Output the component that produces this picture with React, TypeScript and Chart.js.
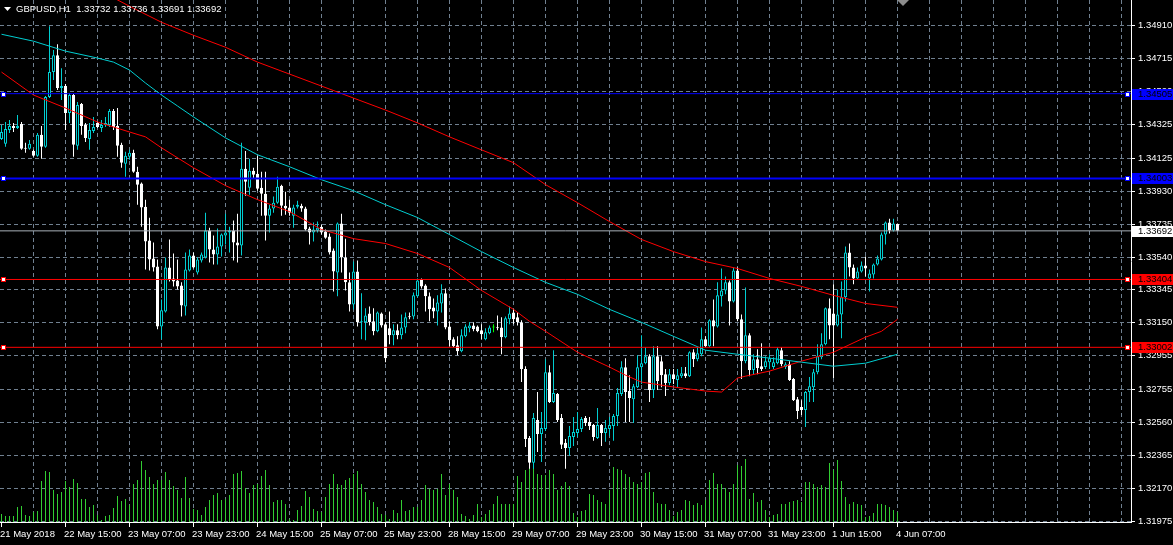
import React, { useEffect, useRef } from 'react';
import { Chart, registerables } from 'chart.js';

Chart.register(...registerables);

// ---------- data (GBPUSD, H1) ----------
const symbolTitle = 'GBPUSD,H1';

const open = [
  1.34237, 1.34208, 1.34290, 1.34314, 1.34302, 1.34326, 1.34184, 1.34178, 1.34166, 1.34137,
  1.34261, 1.34190, 1.34485, 1.34633, 1.34733, 1.34538, 1.34550, 1.34391, 1.34497, 1.34196,
  1.34444, 1.34320, 1.34237, 1.34284, 1.34331, 1.34302, 1.34320, 1.34320, 1.34402, 1.34314,
  1.34202, 1.34090, 1.34131, 1.34155, 1.34042, 1.33972, 1.33835, 1.33635, 1.33528, 1.33481,
  1.33126, 1.33215, 1.33475, 1.33410, 1.33398, 1.33369, 1.33244, 1.33457, 1.33546, 1.33446,
  1.33516, 1.33534, 1.33694, 1.33581, 1.33552, 1.33599, 1.33664, 1.33682, 1.33694, 1.33623,
  1.33605, 1.34060, 1.33948, 1.34048, 1.34031, 1.33948, 1.33912, 1.33782, 1.33824, 1.33859,
  1.33960, 1.33841, 1.33830, 1.33782, 1.33835, 1.33841, 1.33824, 1.33706, 1.33682, 1.33694,
  1.33717, 1.33688, 1.33658, 1.33575, 1.33446, 1.33735, 1.33534, 1.33387, 1.33256, 1.33452,
  1.33150, 1.33150, 1.33203, 1.33156, 1.33097, 1.33203, 1.33138, 1.33115, 1.33073, 1.33103,
  1.33073, 1.33120, 1.33185, 1.33185, 1.33304, 1.33404, 1.33369, 1.33304, 1.33238, 1.33215,
  1.33262, 1.33322, 1.33126, 1.33050, 1.33014, 1.32979, 1.33067, 1.33115, 1.33132, 1.33126,
  1.33103, 1.33050, 1.33085, 1.33120, 1.33120, 1.33120, 1.33062, 1.33168, 1.33209, 1.33180,
  1.33150, 1.32873, 1.32465, 1.32318, 1.32571, 1.32489, 1.32518, 1.32855, 1.32678, 1.32725,
  1.32583, 1.32436, 1.32406, 1.32471, 1.32495, 1.32518, 1.32583, 1.32560, 1.32542, 1.32465,
  1.32542, 1.32495, 1.32518, 1.32536, 1.32595, 1.32725, 1.32884, 1.32743, 1.32695, 1.32766,
  1.32884, 1.32908, 1.32949, 1.32749, 1.32949, 1.32920, 1.32843, 1.32790, 1.32843, 1.32808,
  1.32831, 1.32849, 1.32831, 1.32973, 1.32932, 1.32961, 1.33050, 1.33008, 1.33162, 1.33126,
  1.33304, 1.33339, 1.33387, 1.33274, 1.33457, 1.33168, 1.32920, 1.33073, 1.32867, 1.32932,
  1.32890, 1.32885, 1.32914, 1.32885, 1.32908, 1.32985, 1.32885, 1.32902, 1.32814, 1.32695,
  1.32648, 1.32630, 1.32737, 1.32766, 1.32855, 1.32943, 1.33020, 1.33233, 1.33203, 1.33132,
  1.33197, 1.33298, 1.33564, 1.33475, 1.33410, 1.33452, 1.33487, 1.33410, 1.33434, 1.33493,
  1.33522, 1.33670, 1.33741, 1.33694, 1.33732,
];

const high = [
  1.34320, 1.34337, 1.34349, 1.34331, 1.34379, 1.34337, 1.34214, 1.34231, 1.34172, 1.34272,
  1.34314, 1.34491, 1.34904, 1.34763, 1.34798, 1.34656, 1.34562, 1.34509, 1.34503, 1.34456,
  1.34450, 1.34331, 1.34331, 1.34367, 1.34337, 1.34349, 1.34367, 1.34414, 1.34414, 1.34420,
  1.34214, 1.34161, 1.34172, 1.34172, 1.34072, 1.33978, 1.33877, 1.33770, 1.33623, 1.33522,
  1.33286, 1.33534, 1.33641, 1.33558, 1.33522, 1.33387, 1.33564, 1.33581, 1.33564, 1.33534,
  1.33564, 1.33800, 1.33711, 1.33664, 1.33706, 1.33676, 1.33794, 1.33717, 1.33753, 1.33794,
  1.34214, 1.34166, 1.34119, 1.34066, 1.34137, 1.34042, 1.34042, 1.33847, 1.33895, 1.34013,
  1.33966, 1.33924, 1.33877, 1.33847, 1.33871, 1.33853, 1.33835, 1.33717, 1.33741, 1.33747,
  1.33729, 1.33700, 1.33676, 1.33587, 1.33741, 1.33794, 1.33646, 1.33446, 1.33510, 1.33516,
  1.33322, 1.33233, 1.33244, 1.33233, 1.33215, 1.33209, 1.33150, 1.33215, 1.33138, 1.33138,
  1.33197, 1.33209, 1.33209, 1.33327, 1.33410, 1.33410, 1.33375, 1.33327, 1.33292, 1.33310,
  1.33375, 1.33351, 1.33156, 1.33062, 1.33067, 1.33109, 1.33138, 1.33150, 1.33150, 1.33132,
  1.33138, 1.33115, 1.33132, 1.33138, 1.33191, 1.33180, 1.33185, 1.33244, 1.33227, 1.33209,
  1.33162, 1.32890, 1.32477, 1.32613, 1.32737, 1.32619, 1.32932, 1.32896, 1.32985, 1.32731,
  1.32607, 1.32459, 1.32536, 1.32589, 1.32619, 1.32589, 1.32595, 1.32589, 1.32548, 1.32642,
  1.32548, 1.32571, 1.32589, 1.32607, 1.32761, 1.32920, 1.32938, 1.32837, 1.32784, 1.32955,
  1.33073, 1.33003, 1.32961, 1.33008, 1.33008, 1.32949, 1.32873, 1.32873, 1.32873, 1.32873,
  1.32885, 1.32885, 1.32979, 1.32991, 1.33003, 1.33120, 1.33067, 1.33168, 1.33286, 1.33387,
  1.33469, 1.33422, 1.33398, 1.33475, 1.33475, 1.33197, 1.33357, 1.33085, 1.32961, 1.32991,
  1.33026, 1.32949, 1.32961, 1.32943, 1.33003, 1.33003, 1.32914, 1.32920, 1.32820, 1.32707,
  1.32689, 1.32743, 1.32826, 1.32873, 1.33020, 1.33085, 1.33238, 1.33292, 1.33375, 1.33345,
  1.33392, 1.33599, 1.33617, 1.33493, 1.33475, 1.33510, 1.33540, 1.33463, 1.33499, 1.33546,
  1.33682, 1.33747, 1.33764, 1.33764, 1.33736,
];

const low = [
  1.34231, 1.34190, 1.34272, 1.34278, 1.34296, 1.34172, 1.34155, 1.34172, 1.34131, 1.34131,
  1.34119, 1.34184, 1.34479, 1.34586, 1.34527, 1.34467, 1.34290, 1.34331, 1.34131, 1.34172,
  1.34261, 1.34219, 1.34172, 1.34272, 1.34302, 1.34278, 1.34308, 1.34308, 1.34290, 1.34131,
  1.34066, 1.34013, 1.34113, 1.34036, 1.33847, 1.33717, 1.33463, 1.33457, 1.33452, 1.33109,
  1.33050, 1.33209, 1.33392, 1.33363, 1.33345, 1.33185, 1.33191, 1.33452, 1.33469, 1.33434,
  1.33505, 1.33528, 1.33505, 1.33493, 1.33493, 1.33540, 1.33611, 1.33564, 1.33516, 1.33505,
  1.33546, 1.33900, 1.33906, 1.34001, 1.33930, 1.33782, 1.33635, 1.33682, 1.33800, 1.33853,
  1.33782, 1.33788, 1.33782, 1.33711, 1.33824, 1.33806, 1.33694, 1.33611, 1.33629, 1.33682,
  1.33670, 1.33646, 1.33552, 1.33333, 1.33304, 1.33446, 1.33339, 1.33215, 1.33227, 1.33126,
  1.33050, 1.33044, 1.33132, 1.33073, 1.33091, 1.33120, 1.32914, 1.33020, 1.33014, 1.33050,
  1.33050, 1.33085, 1.33168, 1.33168, 1.33298, 1.33351, 1.33215, 1.33156, 1.33174, 1.33132,
  1.33209, 1.33109, 1.33008, 1.33003, 1.32955, 1.32973, 1.33062, 1.33091, 1.33097, 1.33091,
  1.33050, 1.33044, 1.33079, 1.33091, 1.33103, 1.32961, 1.33056, 1.33138, 1.33138, 1.33132,
  1.32796, 1.32411, 1.32282, 1.32282, 1.32382, 1.32323, 1.32506, 1.32672, 1.32672, 1.32560,
  1.32400, 1.32282, 1.32359, 1.32418, 1.32471, 1.32501, 1.32536, 1.32512, 1.32448, 1.32459,
  1.32418, 1.32442, 1.32477, 1.32448, 1.32536, 1.32713, 1.32560, 1.32560, 1.32554, 1.32761,
  1.32784, 1.32902, 1.32678, 1.32701, 1.32749, 1.32766, 1.32713, 1.32778, 1.32784, 1.32761,
  1.32820, 1.32820, 1.32826, 1.32885, 1.32920, 1.32949, 1.33003, 1.33003, 1.33008, 1.33120,
  1.33244, 1.33316, 1.33132, 1.33268, 1.33156, 1.32814, 1.32908, 1.32831, 1.32843, 1.32843,
  1.32861, 1.32873, 1.32873, 1.32873, 1.32902, 1.32890, 1.32873, 1.32802, 1.32684, 1.32577,
  1.32601, 1.32530, 1.32678, 1.32678, 1.32843, 1.32932, 1.33014, 1.33050, 1.32820, 1.33126,
  1.33056, 1.33274, 1.33422, 1.33375, 1.33404, 1.33446, 1.33422, 1.33333, 1.33410, 1.33487,
  1.33516, 1.33611, 1.33676, 1.33688, 1.33691,
];

const close = [
  1.34278, 1.34296, 1.34314, 1.34302, 1.34314, 1.34178, 1.34178, 1.34208, 1.34137, 1.34261,
  1.34190, 1.34485, 1.34633, 1.34733, 1.34538, 1.34550, 1.34391, 1.34497, 1.34202, 1.34438,
  1.34314, 1.34243, 1.34290, 1.34308, 1.34308, 1.34320, 1.34331, 1.34402, 1.34308, 1.34196,
  1.34096, 1.34137, 1.34155, 1.34042, 1.33966, 1.33830, 1.33629, 1.33522, 1.33475, 1.33126,
  1.33221, 1.33475, 1.33404, 1.33392, 1.33363, 1.33250, 1.33463, 1.33546, 1.33475, 1.33522,
  1.33552, 1.33694, 1.33581, 1.33552, 1.33599, 1.33670, 1.33682, 1.33694, 1.33623, 1.33605,
  1.34060, 1.33983, 1.34048, 1.34025, 1.33942, 1.33912, 1.33782, 1.33824, 1.33859, 1.33954,
  1.33841, 1.33824, 1.33800, 1.33830, 1.33847, 1.33824, 1.33700, 1.33682, 1.33700, 1.33711,
  1.33682, 1.33652, 1.33564, 1.33452, 1.33735, 1.33534, 1.33387, 1.33256, 1.33452, 1.33150,
  1.33156, 1.33191, 1.33150, 1.33097, 1.33209, 1.33132, 1.32937, 1.33073, 1.33103, 1.33073,
  1.33120, 1.33180, 1.33180, 1.33310, 1.33398, 1.33363, 1.33304, 1.33227, 1.33215, 1.33268,
  1.33322, 1.33120, 1.33044, 1.33008, 1.32979, 1.33073, 1.33126, 1.33132, 1.33109, 1.33097,
  1.33079, 1.33091, 1.33120, 1.33120, 1.33115, 1.33062, 1.33174, 1.33203, 1.33168, 1.33150,
  1.32873, 1.32459, 1.32318, 1.32583, 1.32489, 1.32524, 1.32855, 1.32678, 1.32731, 1.32571,
  1.32424, 1.32406, 1.32477, 1.32501, 1.32518, 1.32577, 1.32554, 1.32536, 1.32471, 1.32542,
  1.32495, 1.32524, 1.32542, 1.32595, 1.32731, 1.32884, 1.32737, 1.32701, 1.32772, 1.32884,
  1.32908, 1.32949, 1.32749, 1.32949, 1.32802, 1.32837, 1.32790, 1.32843, 1.32814, 1.32837,
  1.32849, 1.32831, 1.32973, 1.32932, 1.32967, 1.33050, 1.33008, 1.33162, 1.33126, 1.33310,
  1.33339, 1.33387, 1.33274, 1.33457, 1.33168, 1.32920, 1.33073, 1.32867, 1.32932, 1.32879,
  1.32873, 1.32920, 1.32938, 1.32914, 1.32991, 1.32902, 1.32902, 1.32808, 1.32689, 1.32624,
  1.32630, 1.32737, 1.32772, 1.32855, 1.32949, 1.33020, 1.33233, 1.33132, 1.33132, 1.33197,
  1.33298, 1.33564, 1.33475, 1.33410, 1.33452, 1.33487, 1.33469, 1.33440, 1.33493, 1.33528,
  1.33670, 1.33741, 1.33694, 1.33735, 1.33692,
];

const volume = [
  800, 600, 600, 600, 1500, 1600, 700, 600, 1000, 1100,
  4100, 5100, 5000, 3200, 2800, 3000, 4100, 3500, 4300, 3900,
  2300, 2300, 1500, 1700, 700, 200, 600, 700, 1400, 2600,
  2100, 2300, 1700, 3800, 4200, 6100, 5200, 4500, 3800, 4200,
  4200, 5000, 4200, 3600, 3200, 2400, 4500, 2400, 1300, 1200,
  700, 1500, 2200, 2700, 2900, 2200, 2300, 2700, 4800, 4900,
  5100, 3400, 2900, 3700, 3800, 4600, 5200, 3700, 2000, 2200,
  2200, 1800, 300, 200, 1200, 1600, 3100, 2500, 1300, 1100,
  1000, 2500, 3800, 4800, 3800, 3700, 4200, 4400, 4800, 5100,
  3800, 3000, 2200, 2000, 1500, 800, 700, 300, 1200, 900,
  2200, 1100, 1200, 1500, 1500, 2200, 3700, 3300, 3200, 3300,
  4800, 2700, 3800, 3200, 2500, 800, 600, 300, 700, 1800,
  500, 800, 1200, 1800, 2600, 1800, 1800, 1800, 1800, 4600,
  4000, 5200, 6800, 6200, 4800, 4700, 4700, 5200, 4800, 3200,
  3600, 4000, 3600, 900, 500, 1100, 1200, 2800, 2700, 2200,
  2000, 1800, 3200, 5500, 5300, 5200, 4800, 4500, 4000, 3800,
  4000, 4900, 5000, 3000, 1900, 1800, 1800, 1200, 600, 1000,
  1200, 2200, 2100, 1700, 1900, 1700, 2200, 4200, 4900, 3800,
  3800, 3400, 3000, 3800, 5700, 5600, 6300, 2300, 2900, 2000,
  2200, 1200, 500, 700, 800, 1800, 1800, 2000, 2100, 2200,
  2000, 4000, 4000, 3800, 3500, 3700, 3500, 5900, 5200, 6200,
  4100, 2500, 1800, 2000, 1800, 1700, 500, 600, 900, 1800,
  1800, 1700, 1500, 1200, 1000,
];

// moving averages (read at the bars listed)
const maSlowBars = [24, 32, 40, 48, 56, 64, 72, 80, 88, 96, 104, 112, 120, 128, 136, 144, 152, 160, 168, 176, 184, 192, 200, 208, 216, 224];
const maSlowValues = [
  1.35123, 1.35023, 1.34928, 1.34851, 1.34780, 1.34692, 1.34621, 1.34550, 1.34479, 1.34408,
  1.34332, 1.34249, 1.34172, 1.34096, 1.33966, 1.33859, 1.33747, 1.33641, 1.33569, 1.33510,
  1.33469, 1.33410, 1.33363, 1.33310, 1.33262, 1.33239,
];

const maMidBars = [0, 8, 16, 24, 28, 32, 36, 40, 44, 48, 56, 64, 72, 80, 88, 96, 104, 112, 120, 128, 136, 144, 152, 160, 168, 176, 184, 192, 200, 208, 216, 224];
const maMidValues = [
  1.34857, 1.34816, 1.34757, 1.34716, 1.34692, 1.34645, 1.34568, 1.34497, 1.34432, 1.34367,
  1.34243, 1.34143, 1.34072, 1.33995, 1.33930, 1.33847, 1.33771, 1.33670, 1.33569, 1.33475,
  1.33387, 1.33316, 1.33227, 1.33150, 1.33067, 1.32985, 1.32961, 1.32938, 1.32914, 1.32890,
  1.32908, 1.32961,
];

const maFastBars = [0, 8, 16, 24, 32, 36, 40, 48, 56, 64, 72, 80, 88, 96, 104, 112, 120, 128, 132, 136, 144, 152, 156, 160, 168, 176, 180, 182, 184, 186, 192, 200, 208, 216, 220, 224];
const maFastValues = [
  1.34633, 1.34497, 1.34420, 1.34337, 1.34278, 1.34249, 1.34184, 1.34066, 1.33960, 1.33877,
  1.33806, 1.33700, 1.33646, 1.33617, 1.33558, 1.33475, 1.33339, 1.33227, 1.33156, 1.33097,
  1.32973, 1.32885, 1.32837, 1.32796, 1.32767, 1.32743, 1.32737, 1.32778, 1.32820, 1.32831,
  1.32861, 1.32920, 1.32973, 1.33062, 1.33097, 1.33168,
];

// horizontal level objects
const blueLevels = [1.34505, 1.34003];
const redLevels = [1.33404, 1.33002];

// axis labels
const yTickLabels = [
  '1.34910', '1.34715', '1.34520', '1.34325', '1.34125', '1.33930', '1.33735', '1.33540',
  '1.33345', '1.33150', '1.32955', '1.32755', '1.32560', '1.32365', '1.32170', '1.31975',
];
const xTickLabels = [
  '21 May 2018', '22 May 15:00', '23 May 07:00', '23 May 23:00', '24 May 15:00', '25 May 07:00',
  '25 May 23:00', '28 May 15:00', '29 May 07:00', '29 May 23:00', '30 May 15:00', '31 May 07:00',
  '31 May 23:00', '1 Jun 15:00', '4 Jun 07:00',
];
const xTickBars = [0, 16, 32, 48, 64, 80, 96, 112, 128, 144, 160, 176, 192, 208, 224];

// ---------- style ----------
const BG = '#000000';
const GRID = '#708090';
const AXIS = '#FFFFFF';
const BULL = '#00CED1';
const BEAR = '#FFFFFF';
const DOJI = '#00FF00';
const VOL = '#32CD32';
const RED = '#FF0000';
const BLUE = '#0000FF';
const BID = '#A8B0B8';
const FONT = '9.5px "Liberation Sans", Arial, sans-serif';

const X_MIN = -0.375;
const X_MAX = 282.375;
const Y_MIN = 1.31967;
const Y_MAX = 1.3506;
const VOL_MAX = 52200;
const SHIFT_MARK_X = 903;

export default function App() {
  const ref = useRef<HTMLCanvasElement | null>(null);

  useEffect(() => {
    document.body.style.margin = '0';
    document.body.style.background = BG;
    const canvas = ref.current;
    if (!canvas) return;

    const n = open.length;
    const last = n - 1;
    const bodyFill = open.map((o, i) => (close[i] > o ? BG : close[i] < o ? BEAR : DOJI));
    const bodyEdge = open.map((o, i) => (close[i] > o ? BULL : close[i] < o ? BEAR : DOJI));
    const wickColor = open.map((o, i) => (close[i] > o ? BULL : close[i] < o ? BEAR : DOJI));

    const levelLine = (v: number, color: string, w: number, order: number) => ({
      type: 'line' as const,
      order,
      data: [{ x: X_MIN, y: v }, { x: X_MAX, y: v }],
      borderColor: color,
      borderWidth: w,
      pointRadius: 0,
      xAxisID: 'x',
      yAxisID: 'y',
    });

    const maLine = (bars: number[], vals: number[], color: string) => ({
      type: 'line' as const,
      order: 2,
      data: bars.map((b, k) => ({ x: b, y: vals[k] })),
      borderColor: color,
      borderWidth: 1,
      pointRadius: 0,
      tension: 0,
      fill: false,
      xAxisID: 'x',
      yAxisID: 'y',
    });

    const levelBoxes = [
      { v: blueLevels[0], bg: BLUE, fg: '#000000', mark: true },
      { v: blueLevels[1], bg: BLUE, fg: '#000000', mark: true },
      { v: redLevels[0], bg: RED, fg: '#000000', mark: true },
      { v: redLevels[1], bg: RED, fg: '#000000', mark: true },
      { v: close[last], bg: '#FFFFFF', fg: '#000000', mark: false },
    ];

    const decor = {
      id: 'mt4decor',
      beforeDraw(chart: any) {
        const { ctx, width, height } = chart;
        ctx.save();
        ctx.fillStyle = BG;
        ctx.fillRect(0, 0, width, height);
        ctx.restore();
      },
      beforeDatasetsDraw(chart: any) {
        const { ctx, chartArea: a, scales } = chart;
        const xs = scales.x;
        const ys = scales.y;
        ctx.save();
        ctx.strokeStyle = GRID;
        ctx.lineWidth = 1;
        ctx.setLineDash([4, 3]);
        ctx.beginPath();
        yTickLabels.forEach((t) => {
          const py = Math.round(ys.getPixelForValue(parseFloat(t))) + 0.5;
          ctx.moveTo(a.left, py);
          ctx.lineTo(a.right, py);
        });
        for (let b = 8; b < X_MAX; b += 8) {
          const px = Math.floor(xs.getPixelForValue(b)) + 0.5;
          ctx.moveTo(px, a.top);
          ctx.lineTo(px, a.bottom);
        }
        ctx.stroke();
        ctx.restore();
      },
      afterDraw(chart: any) {
        const { ctx, chartArea: a, scales, width } = chart;
        const xs = scales.x;
        const ys = scales.y;
        ctx.save();
        ctx.font = FONT;
        ctx.setLineDash([]);
        ctx.lineWidth = 1;
        ctx.strokeStyle = AXIS;
        ctx.fillStyle = AXIS;

        // borders
        ctx.beginPath();
        ctx.moveTo(a.right + 0.5, 0);
        ctx.lineTo(a.right + 0.5, a.bottom + 1);
        ctx.moveTo(0, a.bottom + 0.5);
        ctx.lineTo(a.right + 1, a.bottom + 0.5);
        // y ticks
        yTickLabels.forEach((t) => {
          const py = Math.round(ys.getPixelForValue(parseFloat(t))) + 0.5;
          ctx.moveTo(a.right + 1, py);
          ctx.lineTo(a.right + 4, py);
        });
        // x ticks
        xTickBars.forEach((b) => {
          const px = Math.floor(xs.getPixelForValue(b)) + 0.5;
          ctx.moveTo(px, a.bottom + 1);
          ctx.lineTo(px, a.bottom + 5);
        });
        ctx.stroke();

        // y labels
        ctx.textAlign = 'left';
        ctx.textBaseline = 'middle';
        yTickLabels.forEach((t) => {
          const py = Math.round(ys.getPixelForValue(parseFloat(t))) + 0.5;
          ctx.fillText(t, a.right + 7, py);
        });
        // x labels
        ctx.textBaseline = 'alphabetic';
        xTickBars.forEach((b, k) => {
          const px = Math.floor(xs.getPixelForValue(b));
          ctx.fillText(xTickLabels[k], px - 1, a.bottom + 15);
        });

        // level boxes & end markers
        levelBoxes.forEach((L) => {
          const r = Math.round(ys.getPixelForValue(L.v));
          ctx.fillStyle = L.bg;
          ctx.fillRect(a.right + 1, r - 5, width - a.right - 1, 11);
          ctx.fillStyle = L.fg;
          ctx.textBaseline = 'middle';
          ctx.fillText(L.v.toFixed(5), a.right + 7, r + 0.5);
          if (L.mark) {
            [1, a.right - 6].forEach((mx) => {
              ctx.fillStyle = L.bg;
              ctx.fillRect(mx, r - 2, 5, 5);
              ctx.fillStyle = '#FFFFFF';
              ctx.fillRect(mx + 1, r - 1, 3, 3);
            });
          }
        });

        // header
        ctx.fillStyle = AXIS;
        ctx.beginPath();
        ctx.moveTo(4, 7);
        ctx.lineTo(11, 7);
        ctx.lineTo(7.5, 11);
        ctx.closePath();
        ctx.fill();
        ctx.textBaseline = 'alphabetic';
        const head = `${symbolTitle}  ${open[last].toFixed(5)} ${high[last].toFixed(5)} ${low[last].toFixed(5)} ${close[last].toFixed(5)}`;
        ctx.fillText(head, 16, 12);

        // chart shift marker
        ctx.fillStyle = '#8C8C8C';
        ctx.beginPath();
        ctx.moveTo(SHIFT_MARK_X - 6, 0);
        ctx.lineTo(SHIFT_MARK_X + 6, 0);
        ctx.lineTo(SHIFT_MARK_X, 6);
        ctx.closePath();
        ctx.fill();
        ctx.restore();
      },
    };

    const chart = new Chart(canvas, {
      type: 'bar',
      data: {
        datasets: [
          levelLine(close[last], BID, 1, 1),
          levelLine(blueLevels[0], BLUE, 1, 1),
          levelLine(blueLevels[1], BLUE, 2, 1),
          levelLine(redLevels[0], RED, 1, 1),
          levelLine(redLevels[1], RED, 1, 1),
          maLine(maSlowBars, maSlowValues, RED),
          maLine(maMidBars, maMidValues, BULL),
          maLine(maFastBars, maFastValues, RED),
          {
            type: 'bar',
            order: 5,
            data: open.map((o, i) => ({ x: i, y: [o, close[i]] })),
            backgroundColor: bodyFill,
            borderColor: bodyEdge,
            borderWidth: 1,
            borderSkipped: false,
            barThickness: 3,
            minBarLength: 1,
            grouped: false,
            inflateAmount: 0,
            xAxisID: 'x',
            yAxisID: 'y',
          },
          {
            type: 'bar',
            order: 6,
            data: low.map((l, i) => ({ x: i, y: [l, high[i]] })),
            backgroundColor: wickColor,
            borderWidth: 0,
            barThickness: 1,
            minBarLength: 1,
            grouped: false,
            inflateAmount: 0,
            xAxisID: 'x',
            yAxisID: 'y',
          },
          {
            type: 'bar',
            order: 10,
            data: volume.map((v, i) => ({ x: i, y: v })),
            backgroundColor: VOL,
            borderWidth: 0,
            barThickness: 1,
            grouped: false,
            inflateAmount: 0,
            xAxisID: 'x',
            yAxisID: 'yv',
          },
        ] as any,
      },
      options: {
        animation: false,
        responsive: false,
        devicePixelRatio: 1,
        events: [],
        layout: { padding: { left: 0, top: 0, right: 42, bottom: 23 } },
        plugins: { legend: { display: false }, tooltip: { enabled: false } },
        scales: {
          x: { type: 'linear', min: X_MIN, max: X_MAX, display: false, offset: false },
          y: { type: 'linear', min: Y_MIN, max: Y_MAX, display: false },
          yv: { type: 'linear', min: 0, max: VOL_MAX, display: false },
        },
      } as any,
      plugins: [decor],
    });

    return () => chart.destroy();
  }, []);

  return <canvas ref={ref} width={1173} height={545} style={{ display: 'block' }} />;
}
